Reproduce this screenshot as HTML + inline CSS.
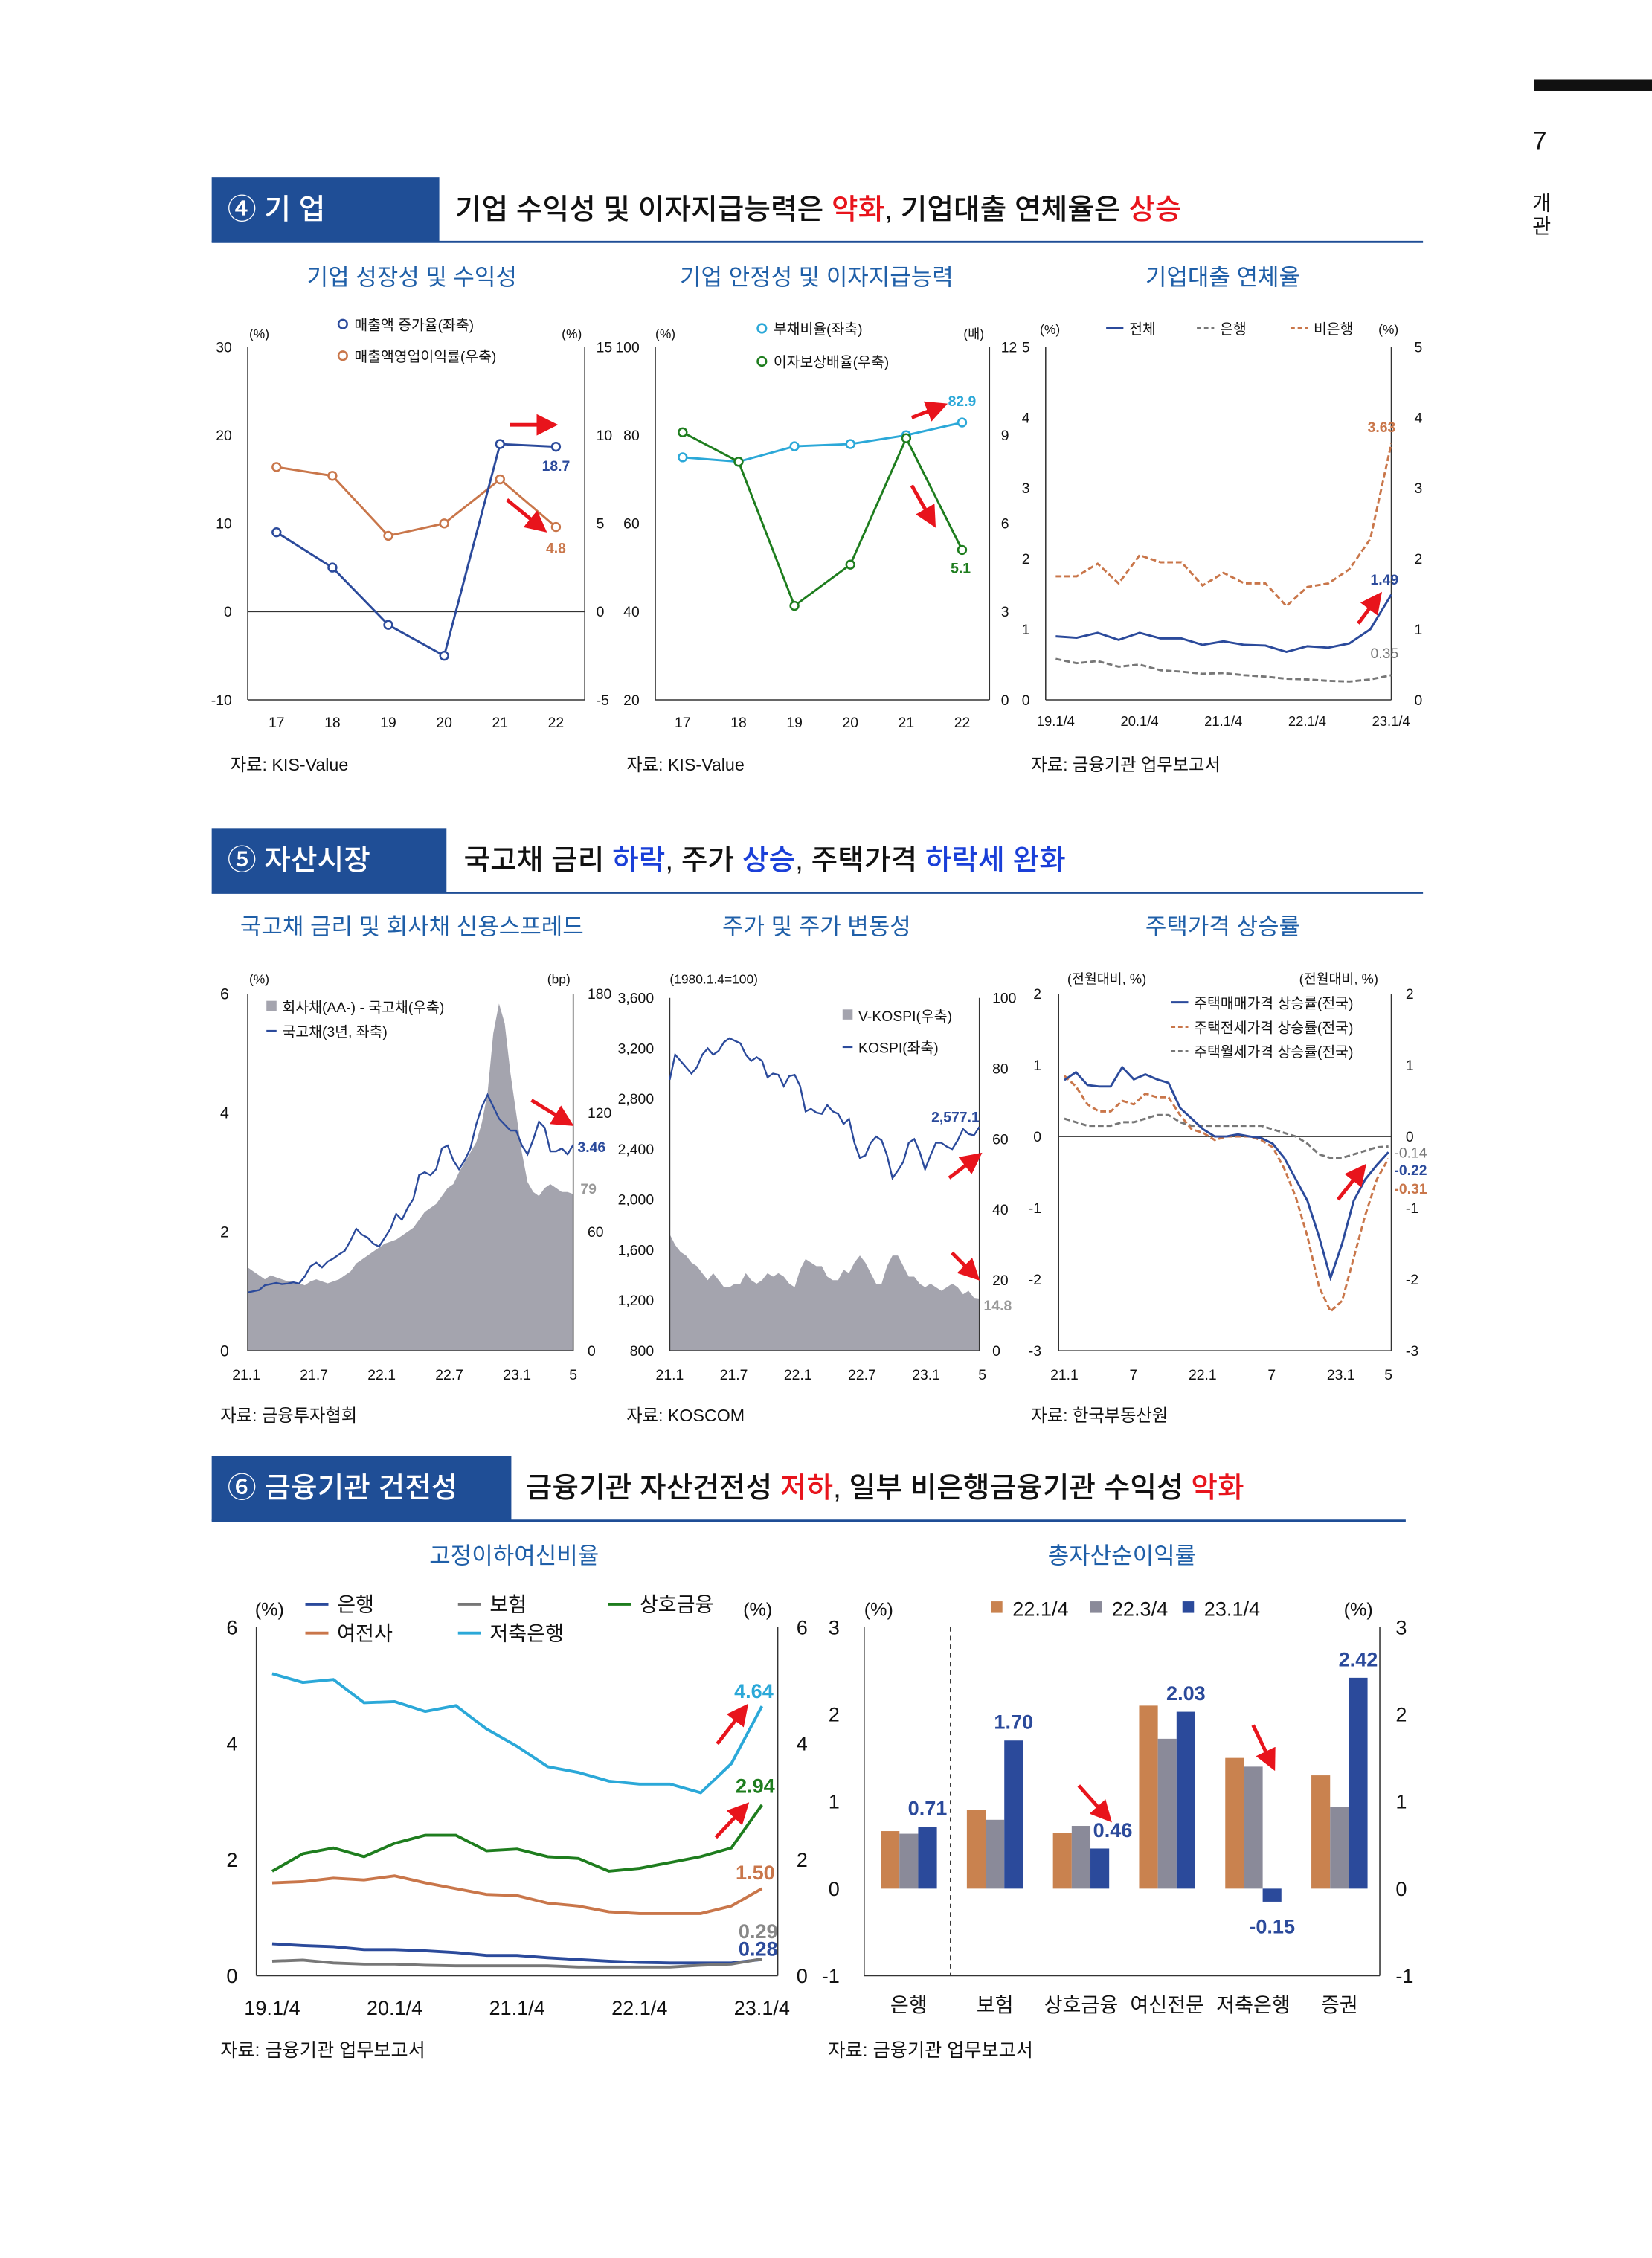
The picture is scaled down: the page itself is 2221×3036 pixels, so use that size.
<!DOCTYPE html>
<html><head><meta charset="utf-8">
<style>
html,body{margin:0;padding:0;background:#fff;}
body{width:2221px;height:3036px;overflow:hidden;}
svg{display:block;font-family:"Liberation Sans","Noto Sans CJK KR",sans-serif;}
</style></head>
<body>
<svg id="page" width="2221" height="3036" viewBox="0 0 1147 1568" preserveAspectRatio="none" xmlns="http://www.w3.org/2000/svg">
<defs>
<marker id="arr" markerWidth="6" markerHeight="6" refX="3" refY="3" orient="auto"><path d="M0,0 L6,3 L0,6 z" fill="#e8141c"/></marker>
</defs>
<rect x="1065" y="55" width="82" height="8" fill="#111"/>
<text x="1064" y="104" font-size="18" fill="#111">7</text>
<text x="1064" y="146" font-size="14" fill="#111">개</text>
<text x="1064" y="162" font-size="14" fill="#111">관</text>

<g>
<rect x="147" y="123" width="158" height="45" fill="#1f4e96"/>
<text x="158" y="152" font-size="20" fill="#fff" font-weight="500">④ 기 업</text>
<text x="316" y="152" font-size="20" fill="#111" font-weight="500">기업 수익성 및 이자지급능력은 <tspan fill="#e8141c">약화</tspan>, 기업대출 연체율은 <tspan fill="#e8141c">상승</tspan></text>
<line x1="147" y1="168" x2="988" y2="168" stroke="#1f4e96" stroke-width="1.5"/>
</g>
<text x="286" y="198" font-size="16" fill="#1f5fa8" text-anchor="middle">기업 성장성 및 수익성</text>
<text x="567" y="198" font-size="16" fill="#1f5fa8" text-anchor="middle">기업 안정성 및 이자지급능력</text>
<text x="849" y="198" font-size="16" fill="#1f5fa8" text-anchor="middle">기업대출 연체율</text>
<text x="160" y="535" font-size="12" fill="#111">자료: KIS-Value</text>
<text x="435" y="535" font-size="12" fill="#111">자료: KIS-Value</text>
<text x="716" y="535" font-size="12" fill="#111">자료: 금융기관 업무보고서</text>

<g>
<rect x="147" y="575" width="163" height="45" fill="#1f4e96"/>
<text x="158" y="604" font-size="20" fill="#fff" font-weight="500">⑤ 자산시장</text>
<text x="322" y="604" font-size="20" fill="#111" font-weight="500">국고채 금리 <tspan fill="#1a3fd8">하락</tspan>, 주가 <tspan fill="#1a3fd8">상승</tspan>, 주택가격 <tspan fill="#1a3fd8">하락세 완화</tspan></text>
<line x1="147" y1="620" x2="988" y2="620" stroke="#1f4e96" stroke-width="1.5"/>
</g>
<text x="286" y="649" font-size="16" fill="#1f5fa8" text-anchor="middle">국고채 금리 및 회사채 신용스프레드</text>
<text x="567" y="649" font-size="16" fill="#1f5fa8" text-anchor="middle">주가 및 주가 변동성</text>
<text x="849" y="649" font-size="16" fill="#1f5fa8" text-anchor="middle">주택가격 상승률</text>
<text x="153" y="987" font-size="12" fill="#111">자료: 금융투자협회</text>
<text x="435" y="987" font-size="12" fill="#111">자료: KOSCOM</text>
<text x="716" y="987" font-size="12" fill="#111">자료: 한국부동산원</text>

<g>
<rect x="147" y="1011" width="208" height="45" fill="#1f4e96"/>
<text x="158" y="1040" font-size="20" fill="#fff" font-weight="500">⑥ 금융기관 건전성</text>
<text x="365" y="1040" font-size="20" fill="#111" font-weight="500">금융기관 자산건전성 <tspan fill="#e8141c">저하</tspan>, 일부 비은행금융기관 수익성 <tspan fill="#e8141c">악화</tspan></text>
<line x1="147" y1="1056" x2="976" y2="1056" stroke="#1f4e96" stroke-width="1.5"/>
</g>
<text x="357" y="1086" font-size="16" fill="#1f5fa8" text-anchor="middle">고정이하여신비율</text>
<text x="779" y="1086" font-size="16" fill="#1f5fa8" text-anchor="middle">총자산순이익률</text>
<text x="153" y="1428" font-size="13" fill="#111">자료: 금융기관 업무보고서</text>
<text x="575" y="1428" font-size="13" fill="#111">자료: 금융기관 업무보고서</text>
<g id="charts"></g>
</svg>
<script>
const c1Years = ['17','18','19','20','21','22'];
const c1Sales = [9, 5, -1.5, -5, 19, 18.7];
const c1Margin = [8.2, 7.7, 4.3, 5, 7.5, 4.8];

const c2Years = ['17','18','19','20','21','22'];
const c2Debt = [75, 74, 77.5, 78, 80, 82.9];
const c2Icr = [9.1, 8.1, 3.2, 4.6, 8.9, 5.1];

const c3Ticks = ['19.1/4','20.1/4','21.1/4','22.1/4','23.1/4'];
const c3Total = [0.9,0.88,0.95,0.85,0.95,0.87,0.87,0.78,0.83,0.78,0.77,0.68,0.76,0.74,0.8,1.0,1.49];
const c3Bank = [0.58,0.52,0.55,0.47,0.5,0.42,0.4,0.37,0.38,0.35,0.33,0.3,0.29,0.27,0.26,0.29,0.35];
const c3NonBank = [1.75,1.75,1.93,1.65,2.05,1.95,1.95,1.62,1.8,1.65,1.65,1.33,1.6,1.65,1.85,2.28,3.63];

const c4Ticks = ['21.1','21.7','22.1','22.7','23.1','5'];
const c4Yield = [0.98,1.0,1.02,1.1,1.12,1.14,1.12,1.13,1.15,1.13,1.25,1.42,1.48,1.4,1.5,1.55,1.62,1.68,1.85,2.05,1.95,1.9,1.8,1.75,1.9,2.05,2.3,2.2,2.4,2.55,2.95,3.0,2.95,3.05,3.4,3.45,3.2,3.05,3.2,3.4,3.8,4.1,4.3,4.1,3.9,3.8,3.7,3.7,3.45,3.3,3.55,3.85,3.75,3.35,3.35,3.4,3.3,3.46];
const c4Spread = [42,40,38,36,38,37,36,35,35,34,33,35,36,35,34,35,36,38,40,44,46,48,50,52,54,55,56,58,60,62,66,70,72,74,78,82,84,90,95,100,105,115,130,160,175,165,140,120,100,85,80,78,82,84,82,80,80,79];

const c5Ticks = ['21.1','21.7','22.1','22.7','23.1','5'];
const c5LeftTicks = ['3,600','3,200','2,800','2,400','2,000','1,600','1,200','800'];
const c5LeftVals = [3600,3200,2800,2400,2000,1600,1200,800];
const c5Kospi = [2950,3150,3100,3050,3000,3050,3150,3200,3150,3180,3250,3280,3260,3240,3150,3100,3130,3100,2970,3000,2990,2900,2980,2990,2900,2700,2720,2690,2680,2750,2700,2680,2600,2640,2450,2330,2350,2450,2500,2470,2350,2170,2230,2300,2450,2480,2380,2240,2350,2450,2450,2420,2400,2470,2560,2520,2510,2577.1];
const c5Vkospi = [33,30,28,27,25,24,22,20,22,20,18,18,19,19,22,20,19,20,22,21,22,21,19,18,23,26,25,24,24,21,20,20,23,22,25,27,25,22,19,19,24,27,27,24,21,21,19,18,19,18,17,18,19,18,16,17,15,14.8];

const c6Ticks = ['21.1','7','22.1','7','23.1','5'];
const c6Sale = [0.79,0.9,0.72,0.7,0.7,0.97,0.8,0.87,0.8,0.75,0.4,0.25,0.1,0.0,0.0,0.03,0.0,-0.02,-0.1,-0.3,-0.6,-0.9,-1.4,-1.98,-1.5,-0.9,-0.6,-0.4,-0.22];
const c6Jeonse = [0.85,0.7,0.45,0.35,0.35,0.5,0.45,0.6,0.55,0.55,0.3,0.1,0.05,-0.05,0.0,0.0,0.0,-0.05,-0.15,-0.45,-0.85,-1.4,-2.1,-2.45,-2.3,-1.7,-1.1,-0.6,-0.31];
const c6Rent = [0.25,0.2,0.15,0.15,0.15,0.2,0.2,0.25,0.3,0.3,0.2,0.15,0.15,0.15,0.15,0.15,0.15,0.15,0.1,0.05,0.0,-0.1,-0.25,-0.3,-0.3,-0.25,-0.2,-0.15,-0.14];

const c7Ticks = ['19.1/4','20.1/4','21.1/4','22.1/4','23.1/4'];
const c7Savings = [5.2,5.05,5.1,4.7,4.72,4.55,4.65,4.25,3.95,3.6,3.5,3.35,3.3,3.3,3.15,3.65,4.64];
const c7Mutual = [1.8,2.1,2.2,2.05,2.28,2.42,2.42,2.15,2.18,2.05,2.02,1.8,1.85,1.95,2.05,2.2,2.94];
const c7Card = [1.6,1.62,1.68,1.65,1.72,1.6,1.5,1.4,1.38,1.25,1.2,1.1,1.07,1.07,1.07,1.2,1.50];
const c7Bank = [0.55,0.52,0.5,0.45,0.45,0.43,0.4,0.35,0.35,0.31,0.28,0.25,0.23,0.22,0.22,0.22,0.28];
const c7Ins = [0.25,0.27,0.22,0.2,0.2,0.18,0.17,0.17,0.17,0.17,0.15,0.15,0.15,0.15,0.18,0.2,0.29];

const c8Cats = ['은행','보험','상호금융','여신전문','저축은행','증권'];
const c8Q22a = [0.66,0.9,0.64,2.1,1.5,1.3];
const c8Q22c = [0.63,0.79,0.72,1.72,1.4,0.94];
const c8Q23a = [0.71,1.70,0.46,2.03,-0.15,2.42];

const NS='http://www.w3.org/2000/svg';
const root=document.getElementById('charts');
function mk(tag,attrs,name,inter,parent){
  const el=document.createElementNS(NS,tag);
  for(const k in attrs) el.setAttribute(k,attrs[k]);
  
  
  (parent||root).appendChild(el);
  return el;
}
function txt(x,y,s,size,fill,anchor,name,bold){
  const a={x:x,y:y,'font-size':size,fill:fill||'#111','text-anchor':anchor||'start'};
  if(bold)a['font-weight']='bold';
  const t=mk('text',a,name,false);
  t.textContent=s;return t;
}
function lin(d0,d1,p0,p1){return v=>p0+(v-d0)*(p1-p0)/(d1-d0);}
function pathD(vals,xf,yf){return vals.map((v,i)=>(i?'L':'M')+xf(i).toFixed(2)+','+yf(v).toFixed(2)).join(' ');}
function line(vals,xf,yf,color,w,name,dash){
  const a={d:pathD(vals,xf,yf),fill:'none',stroke:color,'stroke-width':w};
  if(dash)a['stroke-dasharray']=dash;
  return mk('path',a,name,false);
}
function arrow(x1,y1,x2,y2,name){
  mk('line',{x1:x1,y1:y1,x2:x2,y2:y2,stroke:'#e8141c','stroke-width':2.5,'marker-end':'url(#arr)'},name,false);
}
function frame(x0,x1,y0,y1,name){
  mk('line',{x1:x0,y1:y0,x2:x0,y2:y1,stroke:'#333','stroke-width':0.8},name+'-left-axis',false);
  mk('line',{x1:x1,y1:y0,x2:x1,y2:y1,stroke:'#333','stroke-width':0.8},name+'-right-axis',false);
  mk('line',{x1:x0,y1:y1,x2:x1,y2:y1,stroke:'#333','stroke-width':0.8},name+'-x-axis',false);
}
function yticks(vals,yf,x,anchor,size,name){
  vals.forEach(v=>{txt(x,yf(v)+size*0.35,String(v),size,'#111',anchor,name);});
}
function markers(vals,xf,yf,color,name){
  vals.forEach((v,i)=>{mk('circle',{cx:xf(i),cy:yf(v),r:2.8,fill:'#fff',stroke:color,'stroke-width':1.3},name,false);});
}

(function(){
  const X0=172,X1=406,Y0=241,Y1=486;
  const yl=lin(-10,30,Y1,Y0), yr=lin(-5,15,Y1,Y0);
  const xf=i=>192+i*38.8;
  frame(X0,X1,Y0,Y1,'chart1');
  mk('line',{x1:X0,y1:yl(0),x2:X1,y2:yl(0),stroke:'#333','stroke-width':0.8},'chart1-zero-line',false);
  yticks([30,20,10,0,-10],yl,161,'end',10,'chart1-left-tick');
  yticks([15,10,5,0,-5],yr,414,'start',10,'chart1-right-tick');
  c1Years.forEach((s,i)=>txt(xf(i),505,s,10,'#111','middle','chart1-x-tick'));
  txt(173,235,'(%)',9,'#111','start','chart1-left-unit');
  txt(390,235,'(%)',9,'#111','start','chart1-right-unit');
  mk('circle',{cx:238,cy:225,r:3,fill:'#fff',stroke:'#2b4a9b','stroke-width':1.3},'legend-sales-growth-marker',false);
  txt(246,229,'매출액 증가율(좌축)',10,'#111','start','legend-sales-growth');
  mk('circle',{cx:238,cy:247,r:3,fill:'#fff',stroke:'#c9764a','stroke-width':1.3},'legend-op-margin-marker',false);
  txt(246,251,'매출액영업이익률(우축)',10,'#111','start','legend-op-margin');
  line(c1Margin,xf,yr,'#c9764a',1.5,'op-margin-line');
  markers(c1Margin,xf,yr,'#c9764a','op-margin-point');
  line(c1Sales,xf,yl,'#2b4a9b',1.5,'sales-growth-line');
  markers(c1Sales,xf,yl,'#2b4a9b','sales-growth-point');
  txt(386,327,String(c1Sales[5]),10,'#2b4a9b','middle','sales-growth-label',true);
  txt(386,384,String(c1Margin[5]),10,'#c9764a','middle','op-margin-label',true);
  arrow(354,295,380,295,'chart1-arrow-1');
  arrow(352,347,374,365,'chart1-arrow-2');
})();

(function(){
  const X0=455,X1=687,Y0=241,Y1=486;
  const yl=lin(20,100,Y1,Y0), yr=lin(0,12,Y1,Y0);
  const xf=i=>474+i*38.8;
  frame(X0,X1,Y0,Y1,'chart2');
  yticks([100,80,60,40,20],yl,444,'end',10,'chart2-left-tick');
  yticks([12,9,6,3,0],yr,695,'start',10,'chart2-right-tick');
  c2Years.forEach((s,i)=>txt(xf(i),505,s,10,'#111','middle','chart2-x-tick'));
  txt(455,235,'(%)',9,'#111','start','chart2-left-unit');
  txt(669,235,'(배)',9,'#111','start','chart2-right-unit');
  mk('circle',{cx:529,cy:228,r:3,fill:'#fff',stroke:'#2ba8d8','stroke-width':1.3},'legend-debt-ratio-marker',false);
  txt(537,232,'부채비율(좌축)',10,'#111','start','legend-debt-ratio');
  mk('circle',{cx:529,cy:251,r:3,fill:'#fff',stroke:'#1e7d1e','stroke-width':1.3},'legend-icr-marker',false);
  txt(537,255,'이자보상배율(우축)',10,'#111','start','legend-icr');
  line(c2Debt,xf,yl,'#2ba8d8',1.5,'debt-ratio-line');
  markers(c2Debt,xf,yl,'#2ba8d8','debt-ratio-point');
  line(c2Icr,xf,yr,'#1e7d1e',1.5,'icr-line');
  markers(c2Icr,xf,yr,'#1e7d1e','icr-point');
  txt(668,282,String(c2Debt[5]),10,'#2ba8d8','middle','debt-ratio-label',true);
  txt(667,398,String(c2Icr[5]),10,'#1e7d1e','middle','icr-label',true);
  arrow(633,290,651,283,'chart2-arrow-1');
  arrow(633,337,646,360,'chart2-arrow-2');
})();

(function(){
  const X0=726,X1=966,Y0=241,Y1=486;
  const y=lin(0,5,Y1,Y0);
  const xf=i=>733+i*14.56;
  frame(X0,X1,Y0,Y1,'chart3');
  yticks([5,4,3,2,1,0],y,715,'end',10,'chart3-left-tick');
  yticks([5,4,3,2,1,0],y,982,'start',10,'chart3-right-tick');
  c3Ticks.forEach((s,i)=>txt(733+i*58.2,504,s,9.5,'#111','middle','chart3-x-tick'));
  txt(722,232,'(%)',9,'#111','start','chart3-left-unit');
  txt(957,232,'(%)',9,'#111','start','chart3-right-unit');
  mk('line',{x1:768,y1:228,x2:780,y2:228,stroke:'#2b4a9b','stroke-width':1.5},'legend-total-swatch',false);
  txt(784,232,'전체',10,'#111','start','legend-total');
  mk('line',{x1:831,y1:228,x2:843,y2:228,stroke:'#777','stroke-width':1.5,'stroke-dasharray':'3,2'},'legend-bank-swatch',false);
  txt(847,232,'은행',10,'#111','start','legend-bank');
  mk('line',{x1:896,y1:228,x2:908,y2:228,stroke:'#c9764a','stroke-width':1.5,'stroke-dasharray':'3,2'},'legend-nonbank-swatch',false);
  txt(912,232,'비은행',10,'#111','start','legend-nonbank');
  line(c3NonBank,xf,y,'#c9764a',1.5,'nonbank-delinquency-line','4,2');
  line(c3Bank,xf,y,'#777',1.5,'bank-delinquency-line','4,2');
  line(c3Total,xf,y,'#2b4a9b',1.5,'total-delinquency-line');
  txt(969,300,String(c3NonBank[16]),10,'#c9764a','end','nonbank-label',true);
  txt(971,406,String(c3Total[16]),10,'#2b4a9b','end','total-label',true);
  txt(971,457,String(c3Bank[16]),10,'#777','end','bank-label');
  arrow(943,433,955,417,'chart3-arrow');
})();

(function(){
  const X0=172,X1=398,Y0=690,Y1=938;
  const yl=lin(0,6,Y1,Y0), yr=lin(0,180,Y1,Y0);
  const n=c4Yield.length, xf=i=>X0+i*(X1-X0)/(n-1);
  const pts=c4Spread.map((v,i)=>xf(i).toFixed(2)+','+yr(v).toFixed(2)).join(' ');
  mk('polygon',{points:X0+','+Y1+' '+pts+' '+X1+','+Y1,fill:'#a4a4ae'},'credit-spread-area',false);
  frame(X0,X1,Y0,Y1,'chart4');
  yticks([6,4,2,0],yl,159,'end',11,'chart4-left-tick');
  yticks([180,120,60,0],yr,408,'start',10,'chart4-right-tick');
  c4Ticks.forEach((s,i)=>txt(i<5?171+i*47:398,958,s,10,'#111','middle','chart4-x-tick'));
  txt(173,683,'(%)',9,'#111','start','chart4-left-unit');
  txt(380,683,'(bp)',9,'#111','start','chart4-right-unit');
  mk('rect',{x:185,y:695,width:7,height:7,fill:'#a4a4ae'},'legend-spread-swatch',false);
  txt(196,703,'회사채(AA-) - 국고채(우축)',10,'#111','start','legend-spread');
  mk('line',{x1:185,y1:716,x2:192,y2:716,stroke:'#2b4a9b','stroke-width':1.5},'legend-yield-swatch',false);
  txt(196,720,'국고채(3년, 좌축)',10,'#111','start','legend-yield');
  line(c4Yield,xf,yl,'#2b4a9b',1.2,'treasury-yield-line');
  txt(401,800,String(c4Yield[n-1]),10,'#2b4a9b','start','yield-label',true);
  txt(403,829,String(c4Spread[n-1]),10,'#999','start','spread-label',true);
  arrow(369,764,392,778,'chart4-arrow');
})();

(function(){
  const X0=465,X1=680,Y0=693,Y1=938;
  const yl=lin(800,3600,Y1,Y0), yr=lin(0,100,Y1,Y0);
  const n=c5Kospi.length, xf=i=>X0+i*(X1-X0)/(n-1);
  const pts=c5Vkospi.map((v,i)=>xf(i).toFixed(2)+','+yr(v).toFixed(2)).join(' ');
  mk('polygon',{points:X0+','+Y1+' '+pts+' '+X1+','+Y1,fill:'#a4a4ae'},'vkospi-area',false);
  frame(X0,X1,Y0,Y1,'chart5');
  c5LeftVals.forEach((v,i)=>txt(454,yl(v)+3.5,c5LeftTicks[i],10,'#111','end','chart5-left-tick'));
  yticks([100,80,60,40,20,0],yr,689,'start',10,'chart5-right-tick');
  c5Ticks.forEach((s,i)=>txt(i<5?465+i*44.5:682,958,s,10,'#111','middle','chart5-x-tick'));
  txt(465,683,'(1980.1.4=100)',9,'#111','start','chart5-unit');
  mk('rect',{x:585,y:701,width:7,height:7,fill:'#a4a4ae'},'legend-vkospi-swatch',false);
  txt(596,709,'V-KOSPI(우축)',10,'#111','start','legend-vkospi');
  mk('line',{x1:585,y1:727,x2:592,y2:727,stroke:'#2b4a9b','stroke-width':1.5},'legend-kospi-swatch',false);
  txt(596,731,'KOSPI(좌축)',10,'#111','start','legend-kospi');
  line(c5Kospi,xf,yl,'#2b4a9b',1.2,'kospi-line');
  txt(680,779,'2,577.1',10,'#2b4a9b','end','kospi-label',true);
  txt(683,910,String(c5Vkospi[n-1]),10,'#999','start','vkospi-label',true);
  arrow(659,818,676,805,'chart5-arrow-1');
  arrow(661,870,675,884,'chart5-arrow-2');
})();

(function(){
  const X0=735,X1=966,Y0=690,Y1=938;
  const y=lin(-3,2,Y1,Y0);
  const n=c6Sale.length, xf=i=>739+i*(964-739)/(n-1);
  frame(X0,X1,Y0,Y1,'chart6');
  mk('line',{x1:X0,y1:y(0),x2:X1,y2:y(0),stroke:'#333','stroke-width':0.8},'chart6-zero-line',false);
  yticks([2,1,0,-1,-2,-3],y,723,'end',10,'chart6-left-tick');
  yticks([2,1,0,-1,-2,-3],y,976,'start',10,'chart6-right-tick');
  c6Ticks.forEach((s,i)=>txt(i<5?739+i*48:964,958,s,10,'#111','middle','chart6-x-tick'));
  txt(741,683,'(전월대비, %)',9.5,'#111','start','chart6-left-unit');
  txt(902,683,'(전월대비, %)',9.5,'#111','start','chart6-right-unit');
  mk('line',{x1:813,y1:696,x2:825,y2:696,stroke:'#2b4a9b','stroke-width':1.5},'legend-sale-swatch',false);
  txt(829,700,'주택매매가격 상승률(전국)',10,'#111','start','legend-sale');
  mk('line',{x1:813,y1:713,x2:825,y2:713,stroke:'#c9764a','stroke-width':1.5,'stroke-dasharray':'3,2'},'legend-jeonse-swatch',false);
  txt(829,717,'주택전세가격 상승률(전국)',10,'#111','start','legend-jeonse');
  mk('line',{x1:813,y1:730,x2:825,y2:730,stroke:'#777','stroke-width':1.5,'stroke-dasharray':'3,2'},'legend-rent-swatch',false);
  txt(829,734,'주택월세가격 상승률(전국)',10,'#111','start','legend-rent');
  line(c6Rent,xf,y,'#777',1.5,'rent-line','4,2');
  line(c6Jeonse,xf,y,'#c9764a',1.5,'jeonse-line','4,2');
  line(c6Sale,xf,y,'#2b4a9b',1.5,'sale-line');
  txt(968,804,String(c6Rent[n-1]),10,'#777','start','rent-label');
  txt(968,816,String(c6Sale[n-1]),10,'#2b4a9b','start','sale-label',true);
  txt(968,829,String(c6Jeonse[n-1]),10,'#c9764a','start','jeonse-label',true);
  arrow(929,833,944,814,'chart6-arrow');
})();

(function(){
  const X0=178,X1=540,Y0=1130,Y1=1372;
  const y=lin(0,6,Y1,Y0);
  const xf=i=>189+i*21.25;
  frame(X0,X1,Y0,Y1,'chart7');
  yticks([6,4,2,0],y,165,'end',14,'chart7-left-tick');
  yticks([6,4,2,0],y,553,'start',14,'chart7-right-tick');
  c7Ticks.forEach((s,i)=>txt(189+i*85,1399,s,14,'#111','middle','chart7-x-tick'));
  txt(177,1122,'(%)',13,'#111','start','chart7-left-unit');
  txt(516,1122,'(%)',13,'#111','start','chart7-right-unit');
  const leg=[[212,1114,'#2b4a9b','은행','legend-bank'],[318,1114,'#777','보험','legend-insurance'],[422,1114,'#1e7d1e','상호금융','legend-mutual'],[212,1134,'#c9764a','여전사','legend-card'],[318,1134,'#2ba8d8','저축은행','legend-savings']];
  leg.forEach(l=>{
    mk('line',{x1:l[0],y1:l[1],x2:l[0]+16,y2:l[1],stroke:l[2],'stroke-width':2},l[4]+'-swatch',false);
    txt(l[0]+22,l[1]+5,l[3],14,'#111','start',l[4]);
  });
  line(c7Savings,xf,y,'#2ba8d8',2,'savings-npl-line');
  line(c7Mutual,xf,y,'#1e7d1e',2,'mutual-npl-line');
  line(c7Card,xf,y,'#c9764a',2,'card-npl-line');
  line(c7Bank,xf,y,'#2b4a9b',2,'bank-npl-line');
  line(c7Ins,xf,y,'#777',2,'insurance-npl-line');
  txt(537,1179,c7Savings[16].toFixed(2),14,'#2ba8d8','end','savings-label',true);
  txt(538,1245,c7Mutual[16].toFixed(2),14,'#1e7d1e','end','mutual-label',true);
  txt(538,1305,c7Card[16].toFixed(2),14,'#c9764a','end','card-label',true);
  txt(540,1346,c7Ins[16].toFixed(2),14,'#888','end','insurance-label',true);
  txt(540,1358,c7Bank[16].toFixed(2),14,'#2b4a9b','end','bank-label',true);
  arrow(498,1211,515,1189,'chart7-arrow-1');
  arrow(497,1276,515,1257,'chart7-arrow-2');
})();

(function(){
  const X0=600,X1=958,Y0=1130,Y1=1372;
  const y=lin(-1,3,Y1,Y0);
  const cx=i=>631+i*59.8;
  frame(X0,X1,Y0,Y1,'chart8');
  yticks([3,2,1,0,-1],y,583,'end',14,'chart8-left-tick');
  yticks([3,2,1,0,-1],y,969,'start',14,'chart8-right-tick');
  mk('line',{x1:660,y1:Y0,x2:660,y2:Y1,stroke:'#333','stroke-width':1,'stroke-dasharray':'3,3'},'chart8-divider',false);
  txt(600,1122,'(%)',13,'#111','start','chart8-left-unit');
  txt(933,1122,'(%)',13,'#111','start','chart8-right-unit');
  const series=[[c8Q22a,'#c9824f','22.1/4','q22-1'],[c8Q22c,'#8a8a99','22.3/4','q22-3'],[c8Q23a,'#2b4a9b','23.1/4','q23-1']];
  const lx=[688,757,821];
  series.forEach((s,k)=>{
    mk('rect',{x:lx[k],y:1112,width:8,height:8,fill:s[1]},'legend-'+s[3]+'-swatch',false);
    txt(lx[k]+15,1122,s[2],14,'#111','start','legend-'+s[3]);
  });
  const bw=13;
  c8Cats.forEach((c,i)=>{
    txt(cx(i),1397,c,14,'#111','middle','category-label');
    series.forEach((s,k)=>{
      const v=s[0][i], x=cx(i)-1.5*bw+k*bw;
      mk('rect',{x:x,y:Math.min(y(v),y(0)),width:bw,height:Math.abs(y(v)-y(0)),fill:s[1]},'bar-'+s[3],false);
    });
    const v=c8Q23a[i], x=cx(i)+bw;
    const ly=v>=0?y(v)-8:y(v)+22;
    txt(i===2?cx(i)+22:x,ly,v.toFixed(2),14,'#2b4a9b','middle','value-label',true);
  });
  arrow(749,1240,767,1260,'chart8-arrow-1');
  arrow(870,1198,882,1223,'chart8-arrow-2');
})();
</script>
</body></html>
